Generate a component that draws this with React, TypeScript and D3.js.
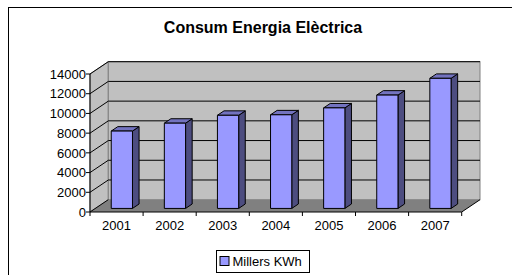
import * as d3 from "d3";

// chart data
const years = ["2001", "2002", "2003", "2004", "2005", "2006", "2007"];
const millersKWh = [7850, 8650, 9450, 9500, 10200, 11500, 13200];
const yTicks = [0, 2000, 4000, 6000, 8000, 10000, 12000, 14000];
const title = "Consum Energia Elèctrica";
const seriesName = "Millers KWh";

const W = 512;
const H = 275;
const FONT = "Arial, 'Liberation Sans', sans-serif";

// 3D depth offset of the plot box
const DX = 18.3;
const DY = -12.3;

export default function App() {
  // front axis scales
  const x = d3.scaleBand<string>().domain(years).range([90, 461.7]).padding(0);
  const y = d3.scaleLinear().domain([0, 14000]).range([212, 74]);

  const y0 = y(0);
  const yTop = y(14000);
  const xL = x.range()[0];
  const xR = x.range()[1];

  // bar placement inside the depth
  const f0 = 0.29;
  const f1 = 0.65;
  const barW = x.bandwidth() * 0.4;

  const pts = (p: [number, number][]) => p.map((d) => d.join(",")).join(" ");

  return (
    <svg
      width={W}
      height={H}
      style={{ position: "fixed", left: 0, top: 0, background: "#fff" }}
      fontFamily={FONT}
    >
      {/* outer frame */}
      <rect x={8.5} y={7.5} width={600} height={400} fill="#fff" stroke="#000" />

      <text x={263} y={32.5} textAnchor="middle" fontSize={16} fontWeight="bold">
        {title}
      </text>

      {/* left side wall */}
      <polygon
        points={pts([
          [xL, y0],
          [xL, yTop],
          [xL + DX, yTop + DY],
          [xL + DX, y0 + DY],
        ])}
        fill="#c0c0c0"
        stroke="#808080"
      />
      {/* back wall */}
      <rect
        x={xL + DX}
        y={yTop + DY}
        width={xR - xL}
        height={y0 - yTop}
        fill="#c0c0c0"
        stroke="#808080"
      />
      {/* floor */}
      <polygon
        points={pts([
          [xL, y0],
          [xR, y0],
          [xR + DX, y0 + DY],
          [xL + DX, y0 + DY],
        ])}
        fill="#808080"
      />

      {/* gridlines on side and back wall */}
      {yTicks.map((t) => (
        <g key={t}>
          <polyline
            points={pts([
              [xL, y(t)],
              [xL + DX, y(t) + DY],
              ...(t > 0 ? ([[xR + DX, y(t) + DY]] as [number, number][]) : []),
            ])}
            fill="none"
            stroke="#000"
          />
        </g>
      ))}
      <line x1={xR} y1={y0} x2={xR + DX} y2={y0 + DY} stroke="#000" />

      {/* axes */}
      <line x1={xL} y1={y0} x2={xL} y2={yTop} stroke="#000" />
      <line x1={xL} y1={y0} x2={xR} y2={y0} stroke="#000" />
      {yTicks.map((t) => (
        <g key={"yt" + t}>
          <line x1={xL - 4} x2={xL} y1={y(t)} y2={y(t)} stroke="#000" />
          <text x={xL - 4} y={y(t)} dy="0.36em" textAnchor="end" fontSize={13}>
            {t}
          </text>
        </g>
      ))}
      {[...years.map((d) => x(d)!), xR].map((px, i) => (
        <line key={"xt" + i} x1={px} x2={px} y1={y0} y2={y0 + 4} stroke="#000" />
      ))}
      {years.map((d) => (
        <text
          key={"xl" + d}
          x={x(d)! + x.bandwidth() / 2}
          y={230}
          textAnchor="middle"
          fontSize={13}
        >
          {d}
        </text>
      ))}

      {/* bars */}
      {years.map((d, i) => {
        const cx = x(d)! + x.bandwidth() / 2 - barW / 2;
        const fx = cx + f0 * DX;
        const fb = y0 + f0 * DY;
        const ft = y(millersKWh[i]) + f0 * DY;
        const ddx = (f1 - f0) * DX;
        const ddy = (f1 - f0) * DY;
        return (
          <g key={"bar" + d} stroke="#000" strokeLinejoin="round">
            <polygon
              points={pts([
                [fx + barW, fb],
                [fx + barW, ft],
                [fx + barW + ddx, ft + ddy],
                [fx + barW + ddx, fb + ddy],
              ])}
              fill="#4d4d80"
            />
            <polygon
              points={pts([
                [fx, ft],
                [fx + barW, ft],
                [fx + barW + ddx, ft + ddy],
                [fx + ddx, ft + ddy],
              ])}
              fill="#7373bf"
            />
            <rect x={fx} y={ft} width={barW} height={fb - ft} fill="#9999ff" />
          </g>
        );
      })}

      {/* legend */}
      <rect x={216.5} y={250.5} width={93} height={22} fill="#fff" stroke="#000" />
      <rect x={220} y={256.5} width={9} height={9} fill="#9999ff" stroke="#000" />
      <text x={232.5} y={266} fontSize={13}>
        {seriesName}
      </text>
    </svg>
  );
}
